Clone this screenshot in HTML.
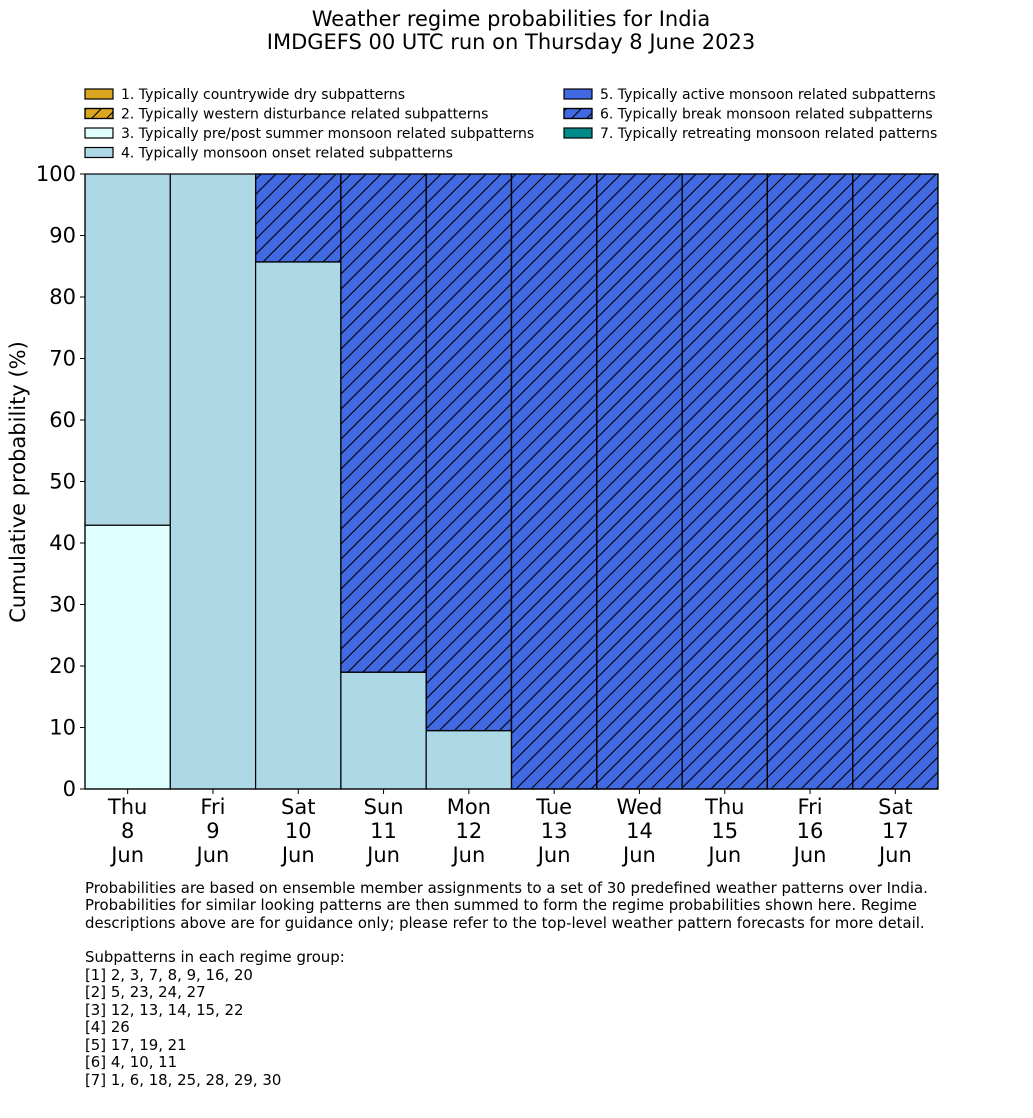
<!DOCTYPE html>
<html><head><meta charset="utf-8"><style>
body{margin:0;background:#fff;font-family:"DejaVu Sans","Liberation Sans",sans-serif;}
svg text{font-family:"DejaVu Sans","Liberation Sans",sans-serif;}
</style></head><body>
<svg id="chart" width="1033" height="1114" xmlns="http://www.w3.org/2000/svg">
<defs>
<pattern id="hatch" patternUnits="userSpaceOnUse" width="15" height="15">
<path d="M-1,16 L16,-1 M-8,8 L8,-8 M7,23 L23,7" stroke="#000" stroke-width="1.1"/>
</pattern>
</defs>
<text x="511" y="26" font-size="21" text-anchor="middle">Weather regime probabilities for India</text>
<text x="511" y="49" font-size="21" text-anchor="middle">IMDGEFS 00 UTC run on Thursday 8 June 2023</text>
<g id="legend"></g>
<g id="bars"></g>
<g id="axes"></g>
<text transform="translate(25,482) rotate(-90)" font-size="21" text-anchor="middle">Cumulative probability (%)</text>
<g font-size="14.9">
<text x="85" y="893">Probabilities are based on ensemble member assignments to a set of 30 predefined weather patterns over India.</text>
<text x="85" y="910">Probabilities for similar looking patterns are then summed to form the regime probabilities shown here. Regime</text>
<text x="85" y="928">descriptions above are for guidance only; please refer to the top-level weather pattern forecasts for more detail.</text>
<text x="85" y="962">Subpatterns in each regime group:</text>
<text x="85" y="980">[1] 2, 3, 7, 8, 9, 16, 20</text>
<text x="85" y="997">[2] 5, 23, 24, 27</text>
<text x="85" y="1015">[3] 12, 13, 14, 15, 22</text>
<text x="85" y="1032">[4] 26</text>
<text x="85" y="1050">[5] 17, 19, 21</text>
<text x="85" y="1067">[6] 4, 10, 11</text>
<text x="85" y="1085">[7] 1, 6, 18, 25, 28, 29, 30</text>
</g>
</svg>
<script>
const days = ["Thu","Fri","Sat","Sun","Mon","Tue","Wed","Thu","Fri","Sat"];
const dates = ["8","9","10","11","12","13","14","15","16","17"];
const regimeNames = ["1. Typically countrywide dry subpatterns","2. Typically western disturbance related subpatterns","3. Typically pre/post summer monsoon related subpatterns","4. Typically monsoon onset related subpatterns","5. Typically active monsoon related subpatterns","6. Typically break monsoon related subpatterns","7. Typically retreating monsoon related patterns"];
const regimeColors = ["#daa520","#daa520","#e0ffff","#add8e6","#4169e1","#4169e1","#008b8b"];
const regimeHatch = [false,true,false,false,false,true,false];
const r1 = [0,0,0,0,0,0,0,0,0,0];
const r2 = [0,0,0,0,0,0,0,0,0,0];
const r3 = [42.9,0,0,0,0,0,0,0,0,0];
const r4 = [57.1,100,85.7,19.0,9.5,0,0,0,0,0];
const r5 = [0,0,0,0,0,0,0,0,0,0];
const r6 = [0,0,14.3,81.0,90.5,100,100,100,100,100];
const r7 = [0,0,0,0,0,0,0,0,0,0];
const yTicks = [0,10,20,30,40,50,60,70,80,90,100];

const NS="http://www.w3.org/2000/svg";
const L=85,R=938,T=174,B=789;
const bw=(R-L)/days.length;
const xs=i=>L+i*bw;
const ys=v=>B-(v/100)*(B-T);
function mk(tag,attrs,parent){const e=document.createElementNS(NS,tag);for(const k in attrs)e.setAttribute(k,attrs[k]);parent.appendChild(e);return e;}
const bars=document.getElementById('bars'),axes=document.getElementById('axes'),legend=document.getElementById('legend');
const series=[r1,r2,r3,r4,r5,r6,r7];
for(let i=0;i<days.length;i++){
  let cum=0;
  series.forEach((s,k)=>{
    const v=s[i]; if(v<=0)return;
    const y0=ys(cum),y1=ys(cum+v);
    const r=mk('rect',{x:xs(i),y:y1,width:bw,height:y0-y1,fill:regimeColors[k],stroke:'#000','stroke-width':1.2},bars);
    
    
    if(regimeHatch[k]){
      const h=mk('rect',{x:xs(i),y:y1,width:bw,height:y0-y1,fill:'url(#hatch)',stroke:'#000','stroke-width':1.2},bars);
      
      
    }
    cum+=v;
  });
}
mk('line',{x1:L,y1:T,x2:L,y2:B,stroke:'#000','stroke-width':1.2},axes);
mk('line',{x1:L,y1:B,x2:R,y2:B,stroke:'#000','stroke-width':1.2},axes);
yTicks.forEach(t=>{
  mk('line',{x1:L-5,y1:ys(t),x2:L,y2:ys(t),stroke:'#000'},axes);
  const tx=mk('text',{x:L-9,y:ys(t)+7,'font-size':21,'text-anchor':'end'},axes);
  tx.textContent=t;
  
  
});
days.forEach((d,i)=>{
  const cx=xs(i)+bw/2;
  mk('line',{x1:cx,y1:B,x2:cx,y2:B+5,stroke:'#000'},axes);
  [d,dates[i],'Jun'].forEach((s,j)=>{
    const tx=mk('text',{x:cx,y:B+25+j*24,'font-size':21,'text-anchor':'middle'},axes);
    tx.textContent=s;
    
    
  });
});
regimeNames.forEach((n,k)=>{
  const col=k<4?0:1,row=k<4?k:k-4;
  const x=col?564:85,y=89+row*19.5;
  const sw=mk('rect',{x:x,y:y,width:28,height:10,fill:regimeColors[k],stroke:'#000','stroke-width':1.2},legend);
  
  
  if(regimeHatch[k]) mk('rect',{x:x,y:y,width:28,height:10,fill:'url(#hatch)',stroke:'#000','stroke-width':1.2},legend);
  const tx=mk('text',{x:x+36,y:y+10,'font-size':14,'font-family':'DejaVu Sans'},legend);
  tx.textContent=n;
  
  
});
</script>
</body></html>
